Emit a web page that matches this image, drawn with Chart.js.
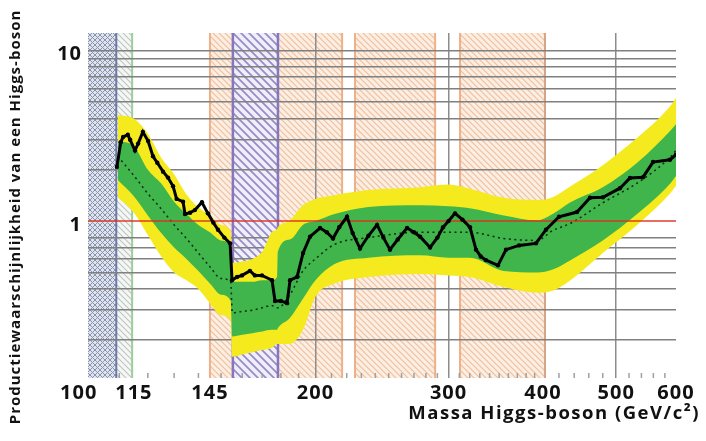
<!DOCTYPE html>
<html>
<head>
<meta charset="utf-8">
<script src="https://cdn.jsdelivr.net/npm/chart.js@4/dist/chart.umd.min.js"></script>
<style>
  html, body { margin: 0; padding: 0; background: #fff; }
</style>
</head>
<body>
<canvas id="higgsChart" width="706" height="441"></canvas>
<script>
// axis ticks
var massTicks = [100, 115, 145, 200, 300, 400, 500, 600];
var massGrid = [200, 300, 500];
var minorTicks = [110, 120, 130, 140, 150, 160, 170, 180, 190, 210, 220, 230, 240, 250, 260, 270, 280, 290,
                  310, 320, 330, 340, 350, 360, 370, 380, 390, 420, 440, 460, 480, 520, 540, 560, 580];
var limitTicks = [0.2, 0.3, 0.4, 0.5, 0.6, 0.7, 0.8, 1, 2, 3, 4, 5, 6, 7, 8, 9, 10];
var limitLabels = [1, 10];

// expected limit bands (mass in GeV/c2)
var bandMass   = [109.5, 115, 120, 125, 130, 135, 140, 145, 150, 154.5, 155.2, 160, 165, 170, 175, 177.9, 178.3,
                  185, 192.5, 200, 212, 235, 275, 300, 320, 355, 393, 412, 435, 480, 533, 590, 600];
var yellowUp   = [4.2, 4.0, 3.25, 2.35, 1.88, 1.43, 1.2, 1.08, 0.95, 0.86, 0.57, 0.58, 0.6, 0.66, 0.86, 0.9, 0.92,
                  1.01, 1.24, 1.35, 1.42, 1.52, 1.58, 1.64, 1.55, 1.37, 1.33, 1.38, 1.6, 2.13, 3.08, 4.75, 5.3];
var greenUp    = [2.95, 2.75, 2.0, 1.66, 1.3, 1.1, 0.95, 0.86, 0.77, 0.7, 0.44, 0.44, 0.44, 0.45, 0.45, 0.47, 0.66,
                  0.78, 0.95, 1.0, 1.1, 1.21, 1.24, 1.22, 1.19, 1.08, 1.01, 1.1, 1.29, 1.58, 2.2, 3.4, 3.7];
var expected   = [2.4, 1.85, 1.45, 1.18, 0.95, 0.79, 0.65, 0.54, 0.46, 0.44, 0.29, 0.295, 0.3, 0.31, 0.32, 0.31, 0.31,
                  0.37, 0.51, 0.6, 0.73, 0.8, 0.86, 0.86, 0.86, 0.79, 0.77, 0.88, 0.97, 1.28, 1.67, 2.38, 2.6];
var greenDown  = [1.74, 1.4, 1.08, 0.85, 0.7, 0.6, 0.51, 0.43, 0.37, 0.34, 0.21, 0.215, 0.22, 0.225, 0.23, 0.23, 0.235,
                  0.27, 0.35, 0.45, 0.56, 0.61, 0.63, 0.61, 0.61, 0.51, 0.5, 0.52, 0.59, 0.77, 1.1, 1.67, 1.84];
var yellowDown = [1.38, 1.12, 0.83, 0.62, 0.5, 0.45, 0.4, 0.33, 0.28, 0.26, 0.16, 0.165, 0.17, 0.175, 0.18, 0.19, 0.19,
                  0.19, 0.23, 0.36, 0.43, 0.47, 0.49, 0.48, 0.47, 0.41, 0.38, 0.39, 0.45, 0.65, 0.95, 1.46, 1.61];

// observed limit
var obsMass  = [109.2, 110.5, 111.3, 112.9, 113.7, 115.4, 116.5, 118.2, 120.1, 121.9, 123.5, 125.7, 127.6, 129.6, 131,
                133.6, 134.4, 136.5, 138.5, 141.5, 144.1, 146.5, 148.6, 151.5, 154.2, 155.1, 157.5, 159.9, 163.8, 166.3,
                169.9, 175.2, 176.8, 180, 183.4, 185.1, 189.1, 192.6, 196.7, 202.8, 207, 211, 215, 220.2, 224, 229.1,
                235, 241.3, 246, 251, 257, 264.4, 270, 275.1, 283.6, 290, 295, 300, 306, 313, 320.3, 326.2, 331, 336.3,
                348.8, 357.4, 371.9, 391.6, 403.7, 420.1, 443.8, 461.7, 480.3, 505.8, 521.5, 542.6, 559.4, 589, 600];
var observed = [2.08, 2.9, 3.12, 3.21, 3.0, 2.6, 2.85, 3.34, 2.95, 2.4, 2.2, 1.95, 1.8, 1.6, 1.35,
                1.3, 1.1, 1.12, 1.16, 1.29, 1.11, 0.98, 0.89, 0.8, 0.74, 0.45, 0.47, 0.48, 0.51, 0.48,
                0.48, 0.45, 0.34, 0.34, 0.33, 0.45, 0.47, 0.65, 0.81, 0.91, 0.86, 0.79, 0.92, 1.06, 0.85, 0.69,
                0.82, 0.95, 0.8, 0.68, 0.78, 0.91, 0.86, 0.81, 0.7, 0.8, 0.92, 1.0, 1.11, 1.02, 0.92, 0.68, 0.62, 0.59,
                0.55, 0.68, 0.72, 0.74, 0.89, 1.06, 1.13, 1.37, 1.38, 1.56, 1.79, 1.81, 2.22, 2.29, 2.45];

// reference line at 1
var unityMass = [100, 600];
var unity = [1, 1];

// excluded / hatched mass regions
var regionFrom = [100, 109, 145, 155.5, 178.4, 225.6, 310.7];
var regionTo   = [109, 114.4, 155.5, 178.4, 216.9, 288, 402.5];
var regionKind = ['cross', 'grey', 'orange', 'purple', 'orange', 'orange', 'orange'];
var edgeMass = [109, 114.4, 145, 155.5, 178.4, 216.9, 225.6, 288, 310.7, 402.5];
var edgeKind = ['blue', 'green', 'orange', 'purple', 'purple', 'orange', 'orange', 'orange', 'orange', 'brown'];

function pts(xs, ys) {
    return xs.map(function (x, i) { return { x: x, y: ys[i] }; });
}

// little tiles for the hatched regions
function hatch(ctx, size, bg, line, lw, cross) {
    var c = document.createElement('canvas');
    c.width = size; c.height = size;
    var g = c.getContext('2d');
    g.fillStyle = bg;
    g.fillRect(0, 0, size, size);
    g.strokeStyle = line;
    g.lineWidth = lw;
    g.beginPath();
    g.moveTo(-1, -1); g.lineTo(size + 1, size + 1);
    g.moveTo(size - 2, -2); g.lineTo(size + 2, 2);
    g.moveTo(-2, size - 2); g.lineTo(2, size + 2);
    if (cross) {
        g.moveTo(-1, size + 1); g.lineTo(size + 1, -1);
        g.moveTo(-2, 2); g.lineTo(2, -2);
        g.moveTo(size - 2, size + 2); g.lineTo(size + 2, size - 2);
    }
    g.stroke();
    return ctx.createPattern(c, 'repeat');
}

var edgeStyle = {
    blue:   ['#6c7aa6', 2],
    green:  ['#9ccd9c', 2],
    orange: ['#eeb088', 2],
    purple: ['#8576bf', 2.5],
    brown:  ['#d6a486', 2]
};

var regionsPlugin = {
    id: 'regions',
    beforeDraw: function (chart) {
        var ctx = chart.ctx, a = chart.chartArea, xs = chart.scales.x;
        if (!chart.$patterns) {
            chart.$patterns = {
                cross:  hatch(ctx, 5, '#dfe3ec', '#8894b2', 1, true),
                grey:   hatch(ctx, 6, '#f5f7f5', '#bfc5c4', 1.1, false),
                orange: hatch(ctx, 6, '#fbeee3', 'rgba(236,176,134,0.75)', 1.2, false),
                purple: hatch(ctx, 8, '#f1eef9', '#948cc6', 1.7, false)
            };
        }
        ctx.save();
        ctx.fillStyle = '#fff';
        ctx.fillRect(0, 0, chart.width, chart.height);
        for (var i = 0; i < regionFrom.length; i++) {
            var x0 = xs.getPixelForValue(regionFrom[i]);
            var x1 = xs.getPixelForValue(regionTo[i]);
            ctx.fillStyle = chart.$patterns[regionKind[i]];
            ctx.fillRect(x0, a.top, x1 - x0, a.bottom - a.top);
        }
        for (var j = 0; j < edgeMass.length; j++) {
            var px = xs.getPixelForValue(edgeMass[j]);
            var st = edgeStyle[edgeKind[j]];
            ctx.strokeStyle = st[0];
            ctx.lineWidth = st[1];
            ctx.beginPath();
            ctx.moveTo(px, a.top);
            ctx.lineTo(px, a.bottom);
            ctx.stroke();
        }
        ctx.restore();
        // tick labels get the same loose spacing as the titles
        ctx.letterSpacing = '1px';
    },
    beforeDatasetsDraw: function (chart) {
        var ctx = chart.ctx, a = chart.chartArea, xs = chart.scales.x;
        ctx.save();
        ctx.strokeStyle = '#a0a0a0';
        ctx.lineWidth = 1.5;
        ctx.beginPath();
        minorTicks.forEach(function (m) {
            var px = xs.getPixelForValue(m);
            ctx.moveTo(px, a.bottom);
            ctx.lineTo(px, a.bottom - 5);
        });
        ctx.stroke();
        ctx.restore();
    },
    afterDraw: function (chart) {
        var ctx = chart.ctx;
        ctx.save();
        ctx.fillStyle = '#111';
        ctx.letterSpacing = '1px';
        ctx.font = 'bold 15px "Open Sans"';
        ctx.textAlign = 'center';
        ctx.textBaseline = 'middle';
        ctx.translate(16, 217);
        ctx.rotate(-Math.PI / 2);
        ctx.fillText('Productiewaarschijnlijkheid van een Higgs-boson', 0, 0);
        ctx.restore();

        ctx.save();
        ctx.fillStyle = '#111';
        ctx.letterSpacing = '1.5px';
        ctx.font = 'bold 18.5px "Open Sans"';
        ctx.textAlign = 'right';
        ctx.textBaseline = 'middle';
        ctx.fillText('Massa Higgs-boson (GeV/c\u00B2)', 700, 414);
        ctx.restore();
    }
};

var band = {
    borderColor: 'rgba(0,0,0,0)',
    borderWidth: 0,
    pointRadius: 0,
    cubicInterpolationMode: 'monotone'
};

var myChart = new Chart(document.getElementById('higgsChart'), {
    type: 'line',
    data: {
        datasets: [
            {
                // observed
                data: pts(obsMass, observed),
                borderColor: '#000',
                borderWidth: 3,
                pointRadius: 2.2,
                pointBorderWidth: 0,
                pointBackgroundColor: '#000',
                fill: false
            },
            {
                data: pts(unityMass, unity),
                borderColor: 'rgba(222,48,30,0.7)',
                borderWidth: 2,
                pointRadius: 0,
                fill: false
            },
            {
                // expected (median)
                data: pts(bandMass, expected),
                borderColor: '#0d2a10',
                borderWidth: 1.5,
                borderDash: [2, 3.5],
                pointRadius: 0,
                cubicInterpolationMode: 'monotone',
                fill: false
            },
            Object.assign({ data: pts(bandMass, greenUp), fill: '+1', backgroundColor: '#3fb54b' }, band),
            Object.assign({ data: pts(bandMass, greenDown), fill: false }, band),
            Object.assign({ data: pts(bandMass, yellowUp), fill: '+1', backgroundColor: '#f4ea1e' }, band),
            Object.assign({ data: pts(bandMass, yellowDown), fill: false }, band)
        ]
    },
    options: {
        responsive: false,
        animation: false,
        devicePixelRatio: 1,
        layout: { padding: { left: 0, top: 33, right: 30, bottom: 0 } },
        plugins: {
            legend: { display: false },
            tooltip: { enabled: false }
        },
        scales: {
            x: {
                type: 'logarithmic',
                min: 100,
                max: 600,
                afterBuildTicks: function (s) { s.ticks = massTicks.map(function (v) { return { value: v }; }); },
                afterFit: function (s) { s.height = 63; },
                border: { display: false },
                grid: {
                    drawTicks: false,
                    lineWidth: 1.5,
                    color: function (c) { return c.tick && massGrid.indexOf(c.tick.value) >= 0 ? '#8c8c8c' : 'rgba(0,0,0,0)'; }
                },
                ticks: {
                    autoSkip: false,
                    maxRotation: 0,
                    padding: 3,
                    color: '#111',
                    font: { family: '"Open Sans"', size: 20, weight: 'bold' },
                    callback: function (v) { return v === 100 ? '100   ' : String(v); }
                }
            },
            y: {
                type: 'logarithmic',
                min: 0.12,
                max: 12.7,
                afterBuildTicks: function (s) { s.ticks = limitTicks.map(function (v) { return { value: v }; }); },
                afterFit: function (s) { s.width = 88; },
                border: { display: false },
                grid: {
                    drawTicks: false,
                    lineWidth: 1.5,
                    color: function (c) { return c.tick && c.tick.value === 1 ? 'rgba(0,0,0,0)' : '#808080'; }
                },
                ticks: {
                    autoSkip: false,
                    padding: 6,
                    labelOffset: 4,
                    color: '#111',
                    font: { family: '"Open Sans"', size: 20, weight: 'bold' },
                    callback: function (v) { return limitLabels.indexOf(v) >= 0 ? String(v) : ''; }
                }
            }
        }
    },
    plugins: [regionsPlugin]
});
</script>
</body>
</html>
